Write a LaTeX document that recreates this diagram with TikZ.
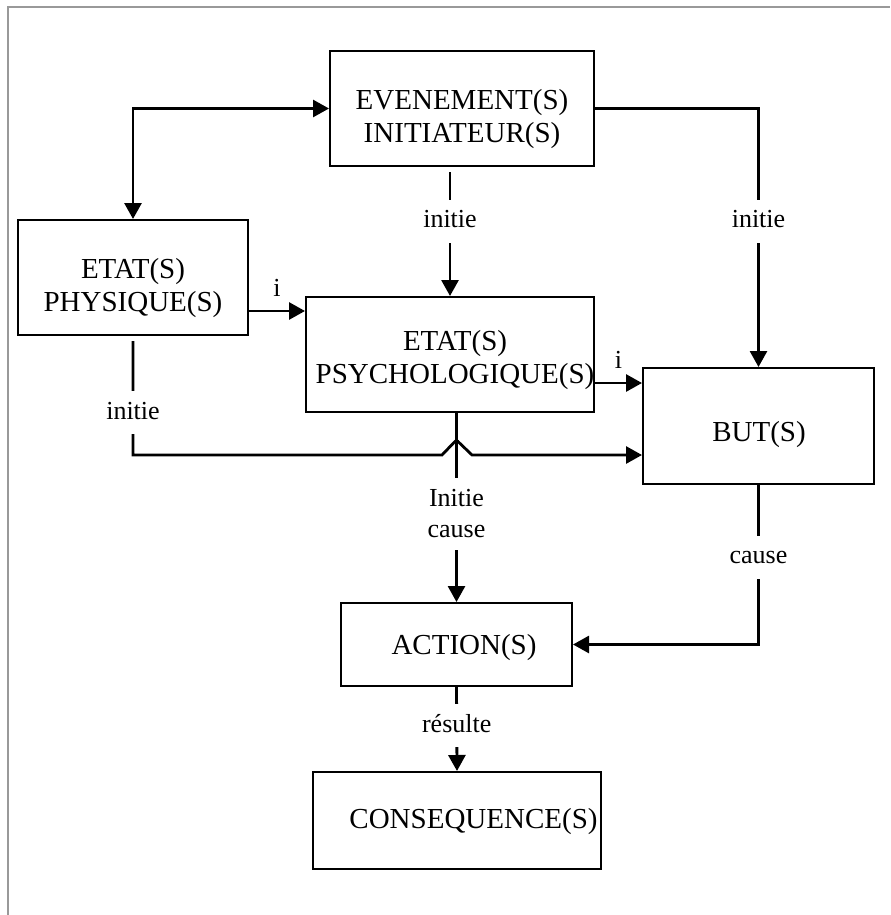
\documentclass[tikz,border=0pt]{standalone}
\usepackage{fontspec}
\setmainfont{Liberation Serif}
\usetikzlibrary{arrows.meta}

\tikzset{
  box/.style={draw, line width=1pt, inner sep=0pt},
  boxtext/.style={align=center, font=\fontsize{14.5}{16.5}\selectfont, inner sep=0pt},
  conn/.style={line width=1.4pt},
  lab/.style={fill=white, font=\fontsize{13}{15.5}\selectfont, inner xsep=2pt, inner ysep=5pt, text height=9pt, text depth=2.5pt},
  labtwo/.style={fill=white, align=center, font=\fontsize{13}{15.5}\selectfont, inner xsep=2pt, inner ysep=6pt},
  ilab/.style={midway, above, font=\fontsize{13}{15.5}\selectfont, inner sep=6.5pt},
}

\begin{document}
\begin{tikzpicture}[x=0.5pt, y=-0.5pt, >={Triangle[length=8pt, width=8.5pt]}]
  \useasboundingbox (0,0) rectangle (890,915);
  % Draw the grey frame along the top and the left.
  \draw[black!40, line width=1pt] (8,915) -- (8,7) -- (890,7);

  % Draw the boxes, then their texts.
  \node[box, minimum width=132pt, minimum height=57.5pt] (even) at (462,108.5) {};
  \node[box, minimum width=115pt, minimum height=57.5pt] (phys) at (133,277.5) {};
  \node[box, minimum width=144pt, minimum height=57.5pt] (psy) at (450,354.5) {};
  \node[box, minimum width=115.5pt, minimum height=58pt] (but) at (758.5,426) {};
  \node[box, minimum width=115.5pt, minimum height=41.5pt] (action) at (456.5,644.5) {};
  \node[box, minimum width=144pt, minimum height=48.5pt] (cons) at (457,820.5) {};

  \node[boxtext] (evenT) at (462,119.5) {EVENEMENT(S)\\INITIATEUR(S)};
  \node[boxtext] (physT) at (133,288.5) {ETAT(S)\\PHYSIQUE(S)};
  \node[boxtext] (psyT) at (455,360.5) {ETAT(S)\\PSYCHOLOGIQUE(S)};
  \node[boxtext] (butT) at (759,434.5) {BUT(S)};
  \node[boxtext] (actionT) at (464,648) {ACTION(S)};
  \node[boxtext] (consT) at (473.5,822) {CONSEQUENCE(S)};

  % Points where the side arrows leave the boxes.
  \coordinate (physout) at ([yshift=-16.75pt]phys.east);
  \coordinate (psyout) at ([yshift=-14.25pt]psy.east);
  \coordinate (jump) at (456.5,455);

  % Draw the connectors.
  \draw[conn, <->] (phys.north) |- (even.west);
  \draw[conn, ->] (physout) -- node[ilab] {i} (physout -| psy.west);
  \draw[conn, ->, shorten <=2.5pt] (psy.north |- even.south) -- node[lab, pos=0.42] {initie} (psy.north);
  \draw[conn, ->] (even.east) -| node[lab, pos=0.718] {initie} (but.north);
  \draw[conn, ->] (psyout) -- node[ilab] {i} (psyout -| but.west);
  % The line from the physical states jumps over the line below the psychological states.
  \draw[conn, ->, shorten <=2.5pt] (phys.south) -- node[lab, pos=0.646] {initie} (phys.south |- jump)
    -- ([xshift=-7.25pt]jump) -- ([xshift=-1.5pt, yshift=6pt]jump) .. controls ([yshift=7.6pt]jump) .. ([xshift=1.5pt, yshift=6pt]jump)
    -- ([xshift=7.75pt]jump) -- (jump -| but.west);
  \draw[conn, ->] (action.north |- psy.south) -- node[labtwo, pos=0.534] {Initie\\cause} (action.north);
  \draw[conn, ->] (but.south) |- node[lab, pos=0.226] {cause} (action.east);
  \draw[conn, ->] (action.south) -- node[lab, pos=0.46] {résulte} (cons.north);
\end{tikzpicture}
\end{document}
